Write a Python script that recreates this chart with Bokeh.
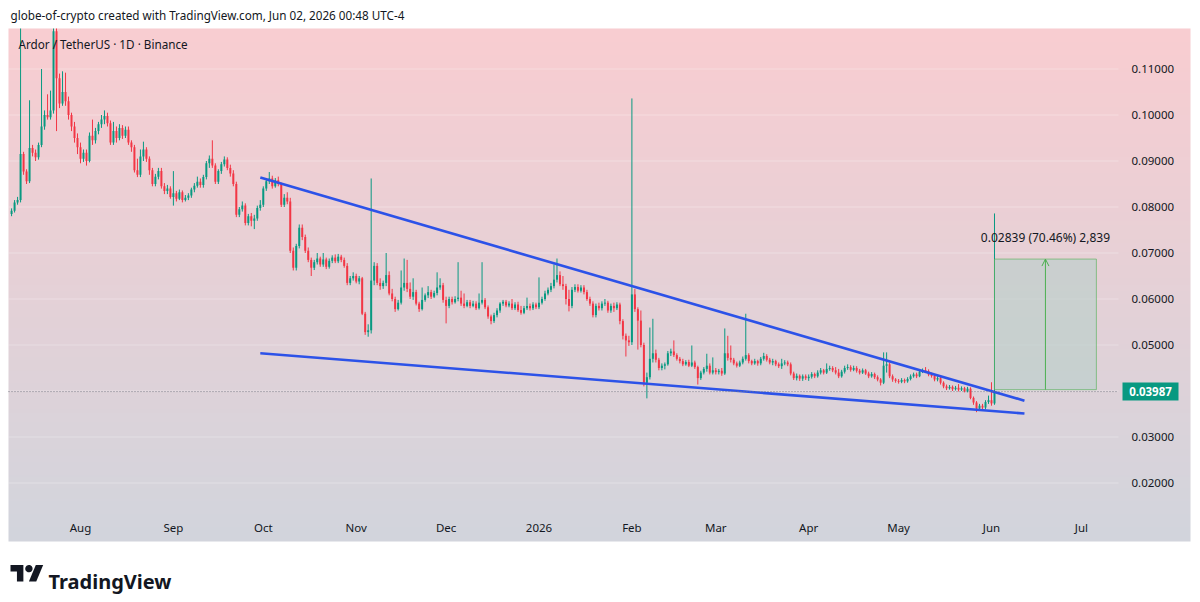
import numpy as np
import pandas as pd
from bokeh.plotting import figure
from bokeh.models import (ColumnDataSource, LinearAxis, FixedTicker, PrintfTickFormatter,
                          Range1d, Label, PolyAnnotation, Arrow, OpenHead)
from bokeh.embed import file_html
from bokeh.resources import INLINE
from bokeh.core.properties import value

# ---------------- data ----------------
header_text = "globe-of-crypto created with TradingView.com, Jun 02, 2026 00:48 UTC-4"
symbol_text = "Ardor / TetherUS \u00b7 1D \u00b7 Binance"
start_date = "2025-07-09"
first_open = 0.0785

closes = [
    # Jul 9 - Jul 31
    .0792, .0810, .0815, .0915, .0877, .0856, .0928, .0918, .0908, .0935, .0975, .1000,
    .0995, .1010, .1182, .1080, .1025, .1050, .1030, .1000, .0975, .0950, .0930,
    # Aug
    .0905, .0918, .0900, .0955, .0945, .0965, .0980, .0990, .0998, .0982, .0940, .0965,
    .0950, .0972, .0955, .0968, .0940, .0930, .0880, .0870, .0910, .0925, .0905, .0880,
    .0850, .0866, .0878, .0845, .0835, .0840, .0822,
    # Sep
    .0830, .0818, .0832, .0815, .0820, .0825, .0838, .0846, .0855, .0848, .0865, .0895,
    .0905, .0890, .0855, .0878, .0893, .0903, .0885, .0873, .0850, .0783, .0795, .0803,
    .0765, .0780, .0770, .0775, .0798, .0805,
    # Oct
    .0840, .0856, .0862, .0845, .0858, .0850, .0805, .0820, .0812, .0705, .0668, .0715,
    .0755, .0735, .0705, .0685, .0668, .0680, .0688, .0675, .0686, .0670, .0683, .0690,
    .0682, .0692, .0685, .0672, .0635, .0645, .0650,
    # Nov
    .0638, .0645, .0568, .0528, .0532, .0640, .0672, .0635, .0628, .0635, .0652, .0612,
    .0600, .0578, .0592, .0625, .0635, .0622, .0605, .0615, .0590, .0578, .0598, .0608,
    .0615, .0605, .0613, .0625, .0630, .0598,
    # Dec
    .0585, .0600, .0593, .0600, .0603, .0590, .0585, .0593, .0585, .0590, .0580, .0592,
    .0598, .0582, .0562, .0552, .0565, .0575, .0590, .0594, .0586, .0590, .0580, .0588,
    .0576, .0570, .0580, .0585, .0580, .0588, .0582,
    # Jan 2026
    .0592, .0600, .0612, .0620, .0628, .0642, .0652, .0632, .0628, .0600, .0585, .0620,
    .0626, .0618, .0625, .0615, .0600, .0590, .0565, .0585, .0580, .0590, .0592, .0575,
    .0585, .0580, .0588, .0552, .0520, .0510, .0506,
    # Feb
    .0610, .0578, .0553, .0500, .0418, .0430, .0470, .0482, .0468, .0450, .0455, .0458,
    .0482, .0486, .0478, .0470, .0465, .0458, .0463, .0455, .0462, .0452, .0428, .0440,
    .0448, .0455, .0440, .0445,
    # Mar
    .0441, .0444, .0438, .0482, .0472, .0468, .0460, .0455, .0462, .0470, .0478, .0465,
    .0460, .0465, .0460, .0470, .0476, .0468, .0462, .0465, .0458, .0454, .0460, .0462,
    .0458, .0438, .0428, .0433, .0427, .0432, .0428,
    # Apr
    .0431, .0437, .0432, .0440, .0445, .0440, .0448, .0450, .0445, .0440, .0432, .0442,
    .0450, .0452, .0446, .0450, .0444, .0440, .0445, .0438, .0432, .0437, .0430, .0425,
    .0418, .0455, .0458, .0432, .0425, .0422,
    # May
    .0420, .0424, .0421, .0426, .0432, .0436, .0432, .0442, .0445, .0443, .0436, .0433,
    .0425, .0428, .0418, .0410, .0406, .0409, .0404, .0407, .0403, .0406, .0400, .0405,
    .0385, .0375, .0362, .0368, .0364, .0376, .0380,
    # Jun 1 - Jun 2
    .0373, .03987,
]

highs = [
    # Jul
    .0797, .0815, .0822, .1215, .0920, .0882, .1032, .0935, .0925, .0940, .1100, .1010,
    .1045, .1053, .1230, .1190, .1090, .1095, .1092, .1040, .1005, .0985, .0960,
    # Aug
    .0940, .0925, .0925, .0962, .0990, .0972, .0985, .1000, .1010, .1005, .0988, .0985,
    .0975, .0980, .0978, .0975, .0975, .0945, .0935, .0905, .0925, .0942, .0930, .0910,
    .0885, .0872, .0885, .0885, .0852, .0848, .0845,
    # Sep
    .0878, .0835, .0838, .0836, .0826, .0830, .0842, .0852, .0866, .0862, .0870, .0900,
    .0912, .0945, .0895, .0882, .0898, .0910, .0908, .0892, .0880, .0855, .0800, .0812,
    .0808, .0785, .0787, .0783, .0803, .0815,
    # Oct
    .0845, .0862, .0876, .0868, .0863, .0866, .0853, .0828, .0832, .0820, .0712, .0720,
    .0762, .0762, .0740, .0712, .0690, .0685, .0700, .0692, .0700, .0690, .0688, .0695,
    .0697, .0698, .0696, .0690, .0678, .0650, .0658,
    # Nov
    .0655, .0650, .0648, .0572, .0545, .0862, .0680, .0678, .0645, .0640, .0700, .0660,
    .0622, .0605, .0598, .0662, .0688, .0685, .0636, .0645, .0620, .0594, .0625, .0612,
    .0628, .0620, .0618, .0658, .0645, .0635,
    # Dec
    .0605, .0605, .0605, .0606, .0680, .0618, .0612, .0598, .0598, .0596, .0595, .0612,
    .0680, .0602, .0586, .0566, .0570, .0580, .0593, .0598, .0598, .0595, .0600, .0593,
    .0594, .0585, .0585, .0603, .0590, .0593, .0592,
    # Jan
    .0647, .0605, .0618, .0625, .0635, .0675, .0688, .0660, .0650, .0633, .0620, .0626,
    .0632, .0632, .0630, .0630, .0620, .0605, .0595, .0590, .0592, .0595, .0600, .0596,
    .0590, .0592, .0593, .0592, .0556, .0525, .0520,
    # Feb
    .1036, .0622, .0582, .0575, .0505, .0440, .0538, .0557, .0490, .0472, .0460, .0462,
    .0487, .0492, .0510, .0482, .0474, .0470, .0467, .0468, .0499, .0466, .0455, .0444,
    .0452, .0481, .0460, .0473,
    # Mar
    .0450, .0448, .0450, .0536, .0520, .0499, .0472, .0464, .0466, .0475, .0568, .0482,
    .0468, .0470, .0468, .0474, .0483, .0480, .0472, .0470, .0468, .0462, .0470, .0467,
    .0466, .0462, .0442, .0438, .0436, .0436, .0436,
    # Apr
    .0436, .0441, .0440, .0445, .0450, .0448, .0460, .0455, .0454, .0452, .0448, .0446,
    .0455, .0458, .0456, .0455, .0454, .0448, .0449, .0448, .0442, .0441, .0440, .0434,
    .0428, .0484, .0484, .0462, .0436, .0428,
    # May
    .0426, .0428, .0427, .0430, .0436, .0440, .0440, .0446, .0449, .0452, .0447, .0440,
    .0437, .0432, .0431, .0421, .0414, .0413, .0412, .0411, .0415, .0410, .0409, .0409,
    .0408, .0388, .0378, .0372, .0372, .0380, .0390,
    # Jun
    .0419, .0786,
]

lows = [
    # Jul
    .0780, .0788, .0805, .0810, .0870, .0850, .0852, .0910, .0900, .0903, .0930, .0968,
    .0990, .0990, .1003, .0965, .1015, .1020, .1020, .0990, .0965, .0940, .0915,
    # Aug
    .0895, .0898, .0890, .0897, .0935, .0938, .0958, .0972, .0980, .0975, .0935, .0935,
    .0940, .0945, .0948, .0950, .0935, .0920, .0875, .0865, .0865, .0900, .0898, .0870,
    .0845, .0845, .0860, .0840, .0828, .0828, .0818,
    # Sep
    .0803, .0812, .0815, .0810, .0812, .0815, .0820, .0832, .0842, .0842, .0842, .0860,
    .0885, .0885, .0850, .0850, .0872, .0888, .0880, .0866, .0845, .0778, .0778, .0790,
    .0760, .0760, .0758, .0752, .0770, .0792,
    # Oct
    .0800, .0835, .0850, .0840, .0842, .0845, .0800, .0800, .0806, .0700, .0662, .0662,
    .0710, .0728, .0700, .0680, .0650, .0663, .0675, .0670, .0670, .0665, .0666, .0678,
    .0678, .0678, .0680, .0668, .0630, .0630, .0640,
    # Nov
    .0634, .0632, .0565, .0522, .0518, .0525, .0630, .0630, .0620, .0622, .0628, .0608,
    .0595, .0572, .0575, .0588, .0618, .0615, .0600, .0598, .0586, .0572, .0575, .0594,
    .0602, .0600, .0602, .0608, .0620, .0592,
    # Dec
    .0547, .0580, .0588, .0590, .0595, .0585, .0580, .0582, .0580, .0582, .0576, .0577,
    .0588, .0578, .0557, .0545, .0548, .0560, .0570, .0585, .0582, .0582, .0576, .0576,
    .0572, .0566, .0567, .0576, .0575, .0576, .0578,
    # Jan
    .0578, .0588, .0596, .0608, .0615, .0623, .0636, .0628, .0620, .0588, .0573, .0580,
    .0615, .0614, .0614, .0610, .0596, .0585, .0560, .0560, .0575, .0575, .0585, .0570,
    .0570, .0572, .0576, .0545, .0512, .0475, .0498,
    # Feb
    .0500, .0572, .0490, .0495, .0410, .0384, .0425, .0462, .0462, .0445, .0445, .0447,
    .0455, .0476, .0474, .0466, .0460, .0454, .0455, .0452, .0452, .0448, .0414, .0424,
    .0436, .0442, .0436, .0436,
    # Mar
    .0436, .0436, .0433, .0435, .0466, .0462, .0456, .0451, .0452, .0458, .0466, .0460,
    .0456, .0457, .0455, .0456, .0466, .0464, .0458, .0456, .0454, .0450, .0448, .0456,
    .0454, .0434, .0424, .0423, .0422, .0422, .0424,
    # Apr
    .0422, .0427, .0428, .0429, .0436, .0436, .0437, .0444, .0441, .0436, .0428, .0429,
    .0438, .0446, .0442, .0443, .0440, .0436, .0437, .0435, .0428, .0429, .0426, .0421,
    .0412, .0415, .0440, .0428, .0420, .0418,
    # May
    .0416, .0417, .0417, .0418, .0423, .0429, .0428, .0430, .0439, .0439, .0432, .0429,
    .0421, .0421, .0414, .0406, .0402, .0403, .0400, .0401, .0399, .0400, .0397, .0397,
    .0382, .0370, .0354, .0357, .0360, .0360, .0372,
    # Jun
    .0368, .0370,
]

# time axis
month_tick_dates = ["2025-08-01", "2025-09-01", "2025-10-01", "2025-11-01", "2025-12-01",
                    "2026-01-01", "2026-02-01", "2026-03-01", "2026-04-01", "2026-05-01",
                    "2026-06-01", "2026-07-01"]
month_tick_labels = ["Aug", "Sep", "Oct", "Nov", "Dec", "2026", "Feb", "Mar", "Apr", "May",
                     "Jun", "Jul"]
price_ticks = [0.02, 0.03, 0.04, 0.05, 0.06, 0.07, 0.08, 0.09, 0.10, 0.11]

# drawings
upper_trend_dates = ["2025-09-30", "2026-06-12"]
upper_trend_prices = [0.0864, 0.0379]
lower_trend_dates = ["2025-09-30", "2026-06-12"]
lower_trend_prices = [0.0482, 0.0351]
measure_dates = ["2026-06-02", "2026-07-06"]
measure_prices = [0.04029, 0.06868]
last_price = 0.03987

# ---------------- layout constants ----------------
REF = pd.Timestamp("2025-08-01")
def day(d):
    return float((pd.Timestamp(d) - REF).days)

W, H = 1200, 602
PX_PER_DAY = 2.9967            # pixels per day, Aug 1 centred at x=80
PX_PER_PRICE = 4600.0          # pixels per 1.0 of price, 0.11 at y=68.5
def px_to_day(px):
    return (px - 80) / PX_PER_DAY
def py_to_price(py):
    return 0.11 - (py - 68.5) / PX_PER_PRICE

PANEL_L, PANEL_R, PANEL_T, PANEL_B = 8, 1190, 28, 541
CHART_R = 1118
X_START, X_END = px_to_day(0), px_to_day(W)
Y_START, Y_END = py_to_price(H), py_to_price(0)

UP, DOWN = "#089981", "#f23645"
TXT = "#131722"
FONT = "Noto Sans"

# ---------------- candles ----------------
opens = [first_open] + closes[:-1]
dates = pd.date_range(start_date, periods=len(closes), freq="D")
xs = np.array([(d - REF).days for d in dates], dtype=float)
o = np.array(opens); c = np.array(closes)
colors = [UP if cc >= oo else DOWN for oo, cc in zip(opens, closes)]
src = ColumnDataSource(dict(x=xs, open=o, close=c, high=highs, low=lows,
                            top=np.maximum(o, c), bottom=np.minimum(o, c), color=colors))

p = figure(width=W, height=H, x_range=Range1d(X_START, X_END),
           y_range=Range1d(Y_START, Y_END), output_backend="svg", toolbar_location=None,
           x_axis_location=None, y_axis_location=None,
           min_border_left=0, min_border_right=0, min_border_top=0, min_border_bottom=0,
           background_fill_color="white", border_fill_color="white", outline_line_color=None)
p.grid.visible = False

# gradient panel (pink at top -> grey at bottom)
N = PANEL_B - PANEL_T
top_rgb = np.array([249, 205, 209], dtype=float)
bot_rgb = np.array([210, 213, 221], dtype=float)
t = np.linspace(0, 1, N)[:, None]          # row 0 = bottom
rgb = bot_rgb * (1 - t) + top_rgb * t
img = np.empty((N, 1), dtype=np.uint32)
view = img.view(dtype=np.uint8).reshape((N, 1, 4))
view[:, 0, 0] = rgb[:, 0]; view[:, 0, 1] = rgb[:, 1]; view[:, 0, 2] = rgb[:, 2]; view[:, 0, 3] = 255
gx0, gx1 = px_to_day(PANEL_L), px_to_day(PANEL_R)
gy0, gy1 = py_to_price(PANEL_B), py_to_price(PANEL_T)
p.image_rgba(image=[img], x=gx0, y=gy0, dw=gx1 - gx0, dh=gy1 - gy0)

CH_X0, CH_X1 = gx0, px_to_day(CHART_R)

# faint horizontal grid lines inside the chart area
p.segment(x0=[CH_X0] * len(price_ticks), x1=[CH_X1] * len(price_ticks),
          y0=price_ticks, y1=price_ticks, line_color="white", line_alpha=0.3, line_width=1)

# candles (wicks clipped to the pane top)
src.data["wick_high"] = np.minimum(np.array(highs), gy1)
src.data["body_top"] = np.minimum(src.data["top"], gy1)
p.segment(x0="x", x1="x", y0="low", y1="wick_high", line_color="color", line_width=1, source=src)
p.vbar(x="x", width=0.66, top="body_top", bottom="bottom", fill_color="color", line_color=None,
       source=src)

# trend lines
p.line([day(d) for d in upper_trend_dates], upper_trend_prices, line_color="#2c52e8",
       line_width=2.6)
p.line([day(d) for d in lower_trend_dates], lower_trend_prices, line_color="#2c52e8",
       line_width=2.6)

# last price dotted line
p.segment(x0=[CH_X0], x1=[CH_X1], y0=[last_price], y1=[last_price],
          line_color="#787b86", line_width=1, line_dash="1 2")

# measurement box
mx0, mx1 = day(measure_dates[0]), day(measure_dates[1])
mb, mt = measure_prices
p.quad(left=[mx0], right=[mx1], bottom=[mb], top=[mt], fill_color="#b8cfc9", fill_alpha=0.6,
       line_color="#4caf50", line_alpha=0.6, line_width=1)
mmid = (mx0 + mx1) / 2
p.add_layout(Arrow(end=OpenHead(size=7, line_color="#4caf50", line_width=1),
                   x_start=mmid, y_start=mb, x_end=mmid, y_end=mt,
                   line_color="#4caf50", line_width=1))
diff = mt - mb
measure_text = f"{diff:.5f} ({diff / mb * 100:.2f}%) {diff * 100000:,.0f}"
p.add_layout(Label(x=mmid, y=mt, y_offset=22, text=measure_text, text_align="center",
                   text_baseline="middle", text_font=FONT, text_font_size="12px",
                   text_color=TXT))

# last price tag on the price scale
tag_x = px_to_day(1150)
p.rect(x=[tag_x], y=[last_price], width=56, height=18, width_units="screen",
       height_units="screen", fill_color=UP, line_color=None)
p.text(x=[tag_x], y=[last_price], text=[f"{last_price:.5f}"], text_align="center",
       text_baseline="middle", text_color="white", text_font=value(FONT),
       text_font_size="11.5px", text_font_style="bold")

# axes (labels pulled inside the gradient pane)
label_ticks = [tk for tk in price_ticks if abs(tk - last_price) > 0.003]
yaxis = LinearAxis(ticker=FixedTicker(ticks=label_ticks),
                   formatter=PrintfTickFormatter(format="%.5f"),
                   axis_line_color=None, major_tick_line_color=None, minor_tick_line_color=None,
                   major_tick_out=0, major_tick_in=0, minor_tick_out=0, minor_tick_in=0,
                   major_label_standoff=1131 - W, major_label_text_font=FONT,
                   major_label_text_font_size="11.5px", major_label_text_color=TXT)
p.add_layout(yaxis, "right")

tick_x = [day(d) for d in month_tick_dates]
xaxis = LinearAxis(ticker=FixedTicker(ticks=tick_x),
                   major_label_overrides={tx: lab for tx, lab in zip(tick_x, month_tick_labels)},
                   axis_line_color=None, major_tick_line_color=None, minor_tick_line_color=None,
                   major_tick_out=0, major_tick_in=0, minor_tick_out=0, minor_tick_in=0,
                   major_label_standoff=519 - H, major_label_text_font=FONT,
                   major_label_text_font_size="11.5px", major_label_text_color=TXT)
p.add_layout(xaxis, "below")

# texts (screen units: x from left, y up from bottom of the canvas)
p.add_layout(Label(x=10, y=H - 14, x_units="screen", y_units="screen",
                   text=header_text, text_baseline="middle", text_font=FONT,
                   text_font_size="11.7px", text_color=TXT))
p.add_layout(Label(x=18, y=H - 43, x_units="screen", y_units="screen",
                   text=symbol_text, text_baseline="middle", text_font=FONT,
                   text_font_size="11.7px", text_color=TXT))

# TradingView logo
s, ox, oy = 0.92, 10.0, 564.5 - 4 * 0.92
def to_screen(pts):
    return ([ox + s * u for u, v in pts], [H - (oy + s * v) for u, v in pts])
for shape in ([(14, 22), (7, 22), (7, 11), (0, 11), (0, 4), (14, 4)],
              [(28, 22), (20, 22), (27.5, 4), (35.5, 4)],
              [(20 + 4 * np.cos(a), 8 + 4 * np.sin(a)) for a in np.linspace(0, 2 * np.pi, 28)]):
    sx, sy = to_screen(shape)
    p.add_layout(PolyAnnotation(xs=sx, ys=sy, xs_units="screen", ys_units="screen",
                                fill_color=TXT, fill_alpha=1, line_color=None))
p.add_layout(Label(x=48, y=H - 581, x_units="screen", y_units="screen",
                   text="TradingView", text_baseline="alphabetic", text_font=FONT,
                   text_font_size="20px", text_font_style="bold", text_color=TXT))

open("out.html", "w").write(file_html(p, INLINE))
